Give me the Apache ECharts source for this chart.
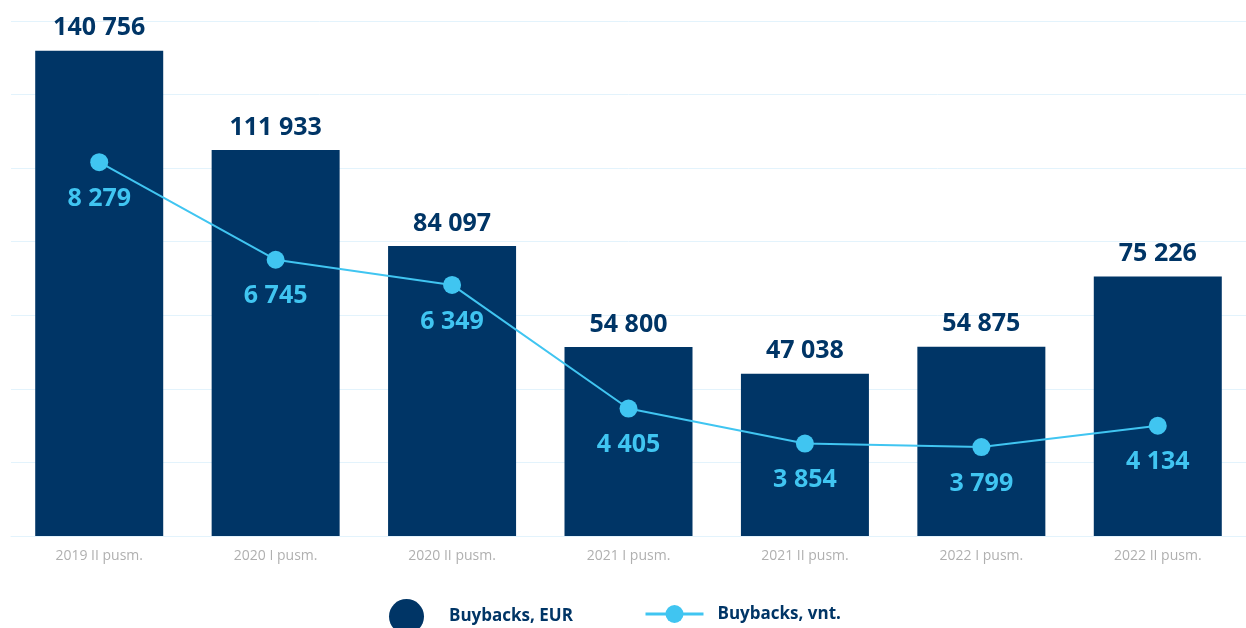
<!DOCTYPE html>
<html>
<head>
<meta charset="utf-8">
<script src="https://cdn.jsdelivr.net/npm/echarts@6/dist/echarts.min.js"></script>
<style>
  html, body { margin: 0; padding: 0; background: #fff; }
  #chart { width: 1246px; height: 628px; }
</style>
</head>
<body>
<div id="chart"></div>
<script>
const categories = ['2019 II pusm.', '2020 I pusm.', '2020 II pusm.', '2021 I pusm.', '2021 II pusm.', '2022 I pusm.', '2022 II pusm.']
const buybacksEur = [140756, 111933, 84097, 54800, 47038, 54875, 75226]
const buybacksVnt = [8279, 6745, 6349, 4405, 3854, 3799, 4134]

const navy = '#003566'
const cyan = '#40c5f1'
const fmt = (v) => String(v).replace(/\B(?=(\d{3})+(?!\d))/g, ' ')

const chart = echarts.init(document.getElementById('chart'))
chart.setOption({
  animation: false,
  textStyle: { fontFamily: 'Open Sans' },
  grid: { left: 11, right: 0, top: 21, bottom: 92, containLabel: false },
  legend: [
    {
      left: 389,
      top: 599,
      padding: 0,
      itemWidth: 35,
      itemHeight: 35,
      data: [{ name: 'Buybacks, EUR', icon: 'circle' }],
      textStyle: { color: navy, fontSize: 17, fontWeight: 'bold', padding: [7, 0, 0, 20] },
    },
    {
      left: 644,
      top: 605,
      padding: 0,
      itemWidth: 58,
      itemHeight: 22.5,
      data: ['Buybacks, vnt.'],
      lineStyle: { width: 3 },
      textStyle: { color: navy, fontSize: 17, fontWeight: 'bold', padding: [7, 0, 0, 9] },
    },
  ],
  xAxis: {
    type: 'category',
    data: categories,
    axisLine: { lineStyle: { color: '#e3f3fc', width: 1 } },
    axisTick: { show: false },
    axisLabel: { color: '#b0b0b0', fontSize: 14, margin: 13 },
  },
  yAxis: [
    {
      type: 'value',
      min: 0,
      max: 149350,
      interval: 149350 / 7,
      axisLabel: { show: false },
      axisLine: { show: false },
      axisTick: { show: false },
      splitLine: { lineStyle: { color: '#e3f3fc', width: 1 } },
    },
    {
      type: 'value',
      min: 2400,
      max: 10500,
      axisLabel: { show: false },
      axisLine: { show: false },
      axisTick: { show: false },
      splitLine: { show: false },
    },
  ],
  series: [
    {
      name: 'Buybacks, EUR',
      type: 'bar',
      data: buybacksEur,
      barWidth: 128,
      itemStyle: { color: navy },
      label: {
        show: true,
        position: 'top',
        distance: 10,
        color: navy,
        fontSize: 25,
        fontWeight: 'bold',
        formatter: (p) => fmt(p.value),
      },
    },
    {
      name: 'Buybacks, vnt.',
      type: 'line',
      yAxisIndex: 1,
      data: buybacksVnt,
      symbol: 'circle',
      symbolSize: 18,
      itemStyle: { color: cyan },
      lineStyle: { color: cyan, width: 2 },
      label: {
        show: true,
        position: 'bottom',
        distance: 15,
        color: cyan,
        fontSize: 25,
        fontWeight: 'bold',
        formatter: (p) => fmt(p.value),
      },
    },
  ],
})
</script>
</body>
</html>
